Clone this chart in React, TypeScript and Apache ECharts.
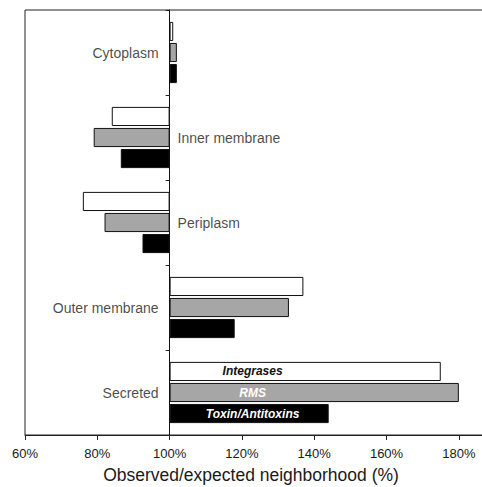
import React, { useEffect, useRef } from "react";
import * as echarts from "echarts";

const categories = ["Cytoplasm", "Inner membrane", "Periplasm", "Outer membrane", "Secreted"];
const integrases = [101, 84, 76, 137, 175];
const rms = [102, 79, 82, 133, 180];
const toxins = [102, 86.5, 92.5, 118, 144];
const seriesNames = ["Integrases", "RMS", "Toxin/Antitoxins"];
const xTickValues = [60, 80, 100, 120, 140, 160, 180];
const BASE = 100;

export default function App() {
  const ref = useRef<HTMLDivElement>(null);
  useEffect(() => {
    if (!ref.current) return;
    const chart = echarts.init(ref.current, null, { renderer: "svg" });
    const font = "Arial, 'Liberation Sans', Helvetica, sans-serif";
    const lastIdx = categories.length - 1;
    const mkSeries = (name: string, vals: number[], color: string, textColor: string) => ({
      type: "bar",
      name,
      data: vals.map((v, i) => {
        const item: any = { value: v - BASE };
        if (i === lastIdx) {
          item.label = {
            show: true,
            position: [83, "50%"],
            align: "center",
            verticalAlign: "middle",
            formatter: name,
            color: textColor,
            fontFamily: font,
            fontSize: 12,
            fontWeight: "bold",
            fontStyle: "italic",
          };
        }
        return item;
      }),
      itemStyle: { color, borderColor: "#111", borderWidth: 1 },
      barGap: "10%",
      barCategoryGap: "28%",
    });
    chart.setOption({
      animation: false,
      grid: {
        left: 25,
        top: 10,
        height: 425,
        width: 470,
        show: true,
        borderColor: "#222",
        borderWidth: 1,
        backgroundColor: "transparent",
        outerBoundsMode: "none",
        containLabel: false,
      },
      xAxis: {
        type: "value",
        min: xTickValues[0] - BASE,
        max: 190 - BASE,
        interval: 20,
        splitLine: { show: false },
        axisLine: { show: true, onZero: false, lineStyle: { color: "#222", width: 1 } },
        axisTick: { show: true, length: 5, lineStyle: { color: "#222" } },
        axisLabel: {
          color: "#1a1a1a",
          fontFamily: font,
          fontSize: 13,
          margin: 12,
          formatter: (v: number) => (xTickValues.includes(v + BASE) ? `${v + BASE}%` : ""),
        },
      },
      yAxis: {
        type: "category",
        data: categories,
        inverse: true,
        axisLine: { show: true, onZero: true, lineStyle: { color: "#111", width: 1 } },
        axisTick: { show: true, length: 4, lineStyle: { color: "#222" } },
        axisLabel: { show: false },
        splitLine: { show: false },
      },
      graphic: [
        {
          type: "text",
          x: 251,
          y: 475,
          style: {
            text: "Observed/expected neighborhood (%)",
            fontFamily: font,
            fontSize: 17.5,
            fill: "#1a1a1a",
            textAlign: "center",
            textVerticalAlign: "middle",
          },
        },
      ],
      series: [
        mkSeries(seriesNames[0], integrases, "#ffffff", "#111"),
        mkSeries(seriesNames[1], rms, "#a6a6a6", "#ffffff"),
        mkSeries(seriesNames[2], toxins, "#000000", "#ffffff"),
        {
          type: "scatter",
          symbolSize: 0,
          silent: true,
          data: categories.map((c, i) => {
            const left = toxins[i] >= BASE;
            return {
              name: c,
              value: [0, i],
              label: {
                show: true,
                position: left ? "left" : "right",
                distance: left ? 11 : 8,
                formatter: "{b}",
                color: "#1a1a1a",
                fontFamily: font,
                fontSize: 14,
              },
            };
          }),
        },
      ],
    });
    return () => chart.dispose();
  }, []);
  return <div ref={ref} style={{ width: 482, height: 487, position: "absolute", left: 0, top: 0 }} />;
}
